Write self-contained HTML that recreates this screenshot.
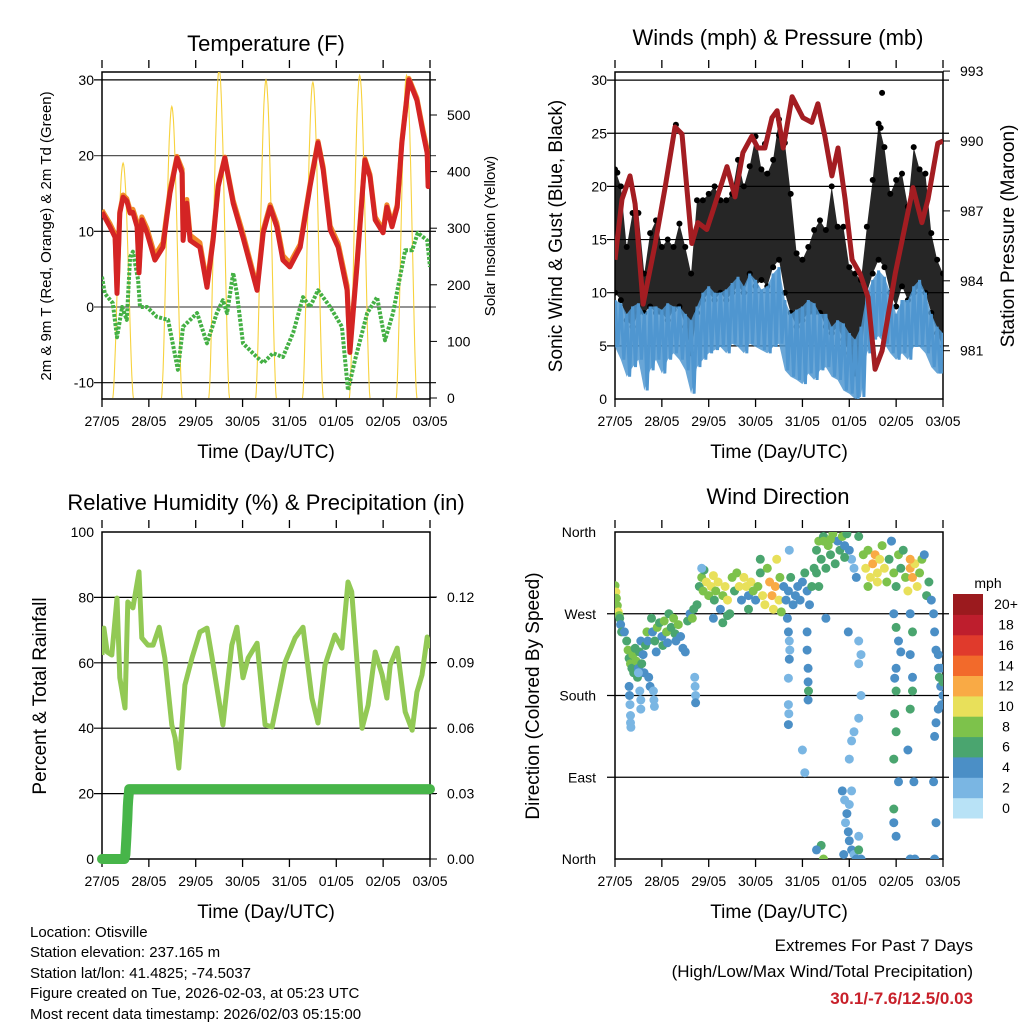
<!DOCTYPE html>
<html><head><meta charset="utf-8"><style>
body{margin:0;background:#fff}
svg{display:block;font-family:"Liberation Sans",Arial,sans-serif}
</style></head><body>
<svg id="c" width="1024" height="1024" viewBox="0 0 1024 1024" xmlns="http://www.w3.org/2000/svg">
<defs>
<clipPath id="cl1"><rect x="102" y="72" width="328" height="327"/></clipPath>
<clipPath id="cl2"><rect x="615" y="72" width="328" height="327"/></clipPath>
<clipPath id="cl3"><rect x="102" y="532" width="328" height="327"/></clipPath>
<clipPath id="cl4"><rect x="615" y="532" width="328" height="327"/></clipPath>
</defs>
<g font-size="22" text-anchor="middle">
<text x="266" y="51">Temperature (F)</text>
<text x="778" y="45">Winds (mph) &amp; Pressure (mb)</text>
<text x="266" y="510">Relative Humidity (%) &amp; Precipitation (in)</text>
<text x="778" y="504">Wind Direction</text>
</g>
<g font-size="19" text-anchor="middle">
<text x="266" y="458">Time (Day/UTC)</text>
<text x="779" y="458">Time (Day/UTC)</text>
<text x="266" y="918">Time (Day/UTC)</text>
<text x="779" y="918">Time (Day/UTC)</text>
<text transform="translate(562,236) rotate(-90)">Sonic Wind &amp; Gust (Blue, Black)</text>
<text transform="translate(1014,236) rotate(-90)">Station Pressure (Maroon)</text>
<text transform="translate(46,696) rotate(-90)">Percent &amp; Total Rainfall</text>
<text transform="translate(539,696) rotate(-90)">Direction (Colored By Speed)</text>
</g>
<g font-size="15" text-anchor="middle">
<text transform="translate(51,236) rotate(-90)">2m &amp; 9m T (Red, Orange) &amp; 2m Td (Green)</text>
<text transform="translate(495,236) rotate(-90)">Solar Insolation (Yellow)</text>
</g>
<g font-size="15">
<text x="30" y="937">Location: Otisville</text>
<text x="30" y="957">Station elevation: 237.165 m</text>
<text x="30" y="978">Station lat/lon: 41.4825; -74.5037</text>
<text x="30" y="998">Figure created on Tue, 2026-02-03, at 05:23 UTC</text>
<text x="30" y="1019">Most recent data timestamp: 2026/02/03 05:15:00</text>
</g>
<g text-anchor="end">
<text x="973" y="951" font-size="17">Extremes For Past 7 Days</text>
<text x="973" y="977" font-size="17">(High/Low/Max Wind/Total Precipitation)</text>
<text x="973" y="1004" font-size="17" font-weight="bold" fill="#c8202a">30.1/-7.6/12.5/0.03</text>
</g>
<text x="988" y="588" font-size="14" text-anchor="middle">mph</text>
<g id="dyn"></g>
</svg>
<script>
const dayLabels=['27/05','28/05','29/05','30/05','31/05','01/05','02/05','03/05'];
const tempT=[0,.17,.28,.32,.38,.45,.53,.6,.66,.75,.79,.85,.96,1.13,1.30,1.45,1.60,1.71,1.73,1.81,1.88,2.09,2.24,2.37,2.48,2.62,2.80,3.01,3.31,3.44,3.59,3.73,3.86,4.01,4.23,4.44,4.61,4.72,4.87,5.04,5.23,5.29,5.44,5.61,5.72,5.83,6.0,6.08,6.19,6.3,6.40,6.55,6.72,6.85,6.94,6.96,7.0];
const tempV=[12.5,10.6,9.2,1.8,12.4,14.5,14,12.4,12.5,10.6,4.5,11.5,9.8,6.2,7.9,15,19.7,17.7,8.8,13.7,8.8,7.9,2.6,8.8,15.9,19.7,13.7,9.2,2.2,9.8,13.2,10.6,6.2,5.3,7.9,15.9,21.7,18.1,10.2,7.9,2.2,-6,5.3,19.4,17.2,11.5,9.8,13.2,10.6,13.2,21.7,30,27.3,23,20.3,15.9,18.1];
const temp9V=[12.8,11,9.6,2.4,12.6,14.8,14.3,12.8,12.9,11.2,5,11.9,10.4,6.8,8.5,15.4,19.9,18.2,9.4,14.2,9.5,8.5,3.1,9.2,16.2,19.8,14.1,9.7,2.6,10.2,13.5,11.1,6.8,5.8,8.3,16.2,21.9,18.5,10.7,8.4,2.8,-5.5,5.8,19.6,17.5,11.9,10.2,13.5,11,13.5,22,30.2,27.6,23.4,20.8,16.4,18.5];
const dewT=[0,.06,.23,.32,.43,.53,.6,.66,.77,.81,.96,1.17,1.41,1.62,1.73,2.03,2.24,2.45,2.58,2.67,2.80,2.88,3.01,3.22,3.44,3.65,3.86,4.08,4.29,4.44,4.61,4.87,5.12,5.25,5.40,5.66,5.87,6.04,6.21,6.47,6.62,6.74,6.94,7];
const dewV=[4,1.8,.5,-4,0,-1.7,6.6,7.3,3.6,0,0,-1.3,-1.7,-8.3,-2.6,-.8,-4.8,-.8,.9,-.8,4.5,1.8,-4.8,-6.1,-7.4,-6.1,-6.6,-3.4,1.3,0,2.2,0,-2.6,-11,-7,-.8,1.3,-4.4,-.8,7.5,7.5,9.8,8.8,5.3];
const solarNoon=[0.45,1.49,2.5,3.5,4.5,5.5,6.5];
const solarPeak=[415,515,580,562,558,570,570];
const presT=[0,.15,.32,.43,.6,.85,1.07,1.28,1.43,1.64,1.77,1.96,2.09,2.39,2.56,2.73,2.92,3.05,3.2,3.35,3.46,3.59,3.78,4.01,4.2,4.33,4.48,4.63,4.76,4.91,5.06,5.23,5.40,5.55,5.7,5.98,6.36,6.55,6.68,6.89,7.0];
const presV=[984.9,987.5,988.5,987.3,983.0,985.5,988.0,990.6,990.3,985.6,986.5,986.2,987.0,988.9,987.6,989.5,990.2,989.7,989.7,991.0,991.3,989.7,991.9,991.0,990.8,991.6,990.2,988.5,989.7,987.5,984.9,984.3,983.3,980.2,981.0,984.3,988.0,986.5,987.5,989.9,990.0];
const windHi=[9.3,9,8,8.7,9,8,8.7,8.7,8.4,9,8.7,8.7,8,7.4,8.7,10,10.6,10,10,10.3,10.9,11.5,10.6,11.8,11.2,10.3,10.6,11.8,12.4,9.3,8,8.4,8.7,9.3,9,8,8,6.8,7.4,7.1,6.2,5.6,6.8,10,11.2,12.1,11.5,10,8,9.3,9.3,10.6,11.2,10,8,6.8,6.2];
const windLo=[4.9,3.7,2.1,3,3.7,.8,2.7,3.7,2.4,3.7,4.3,3.7,2.7,.5,3,3.7,4.3,4.6,4.9,4.3,5.2,4.9,4.3,5.2,4.9,4.6,4.3,4.9,5.2,2.7,2.1,1.8,1.4,2.4,1.8,2.7,3,2.1,1.8,.8,.5,0,.2,4.3,5.6,5.9,5.2,4.3,3.7,4.3,3.7,4.9,4.9,4.3,3,2.4,2.4];
const gustHi=[21.6,20,14.3,17.5,17.5,11.8,15.6,16.8,14.3,15,14.3,16.5,14.3,11.8,18.7,18.7,19.3,20,18.7,18.7,19.3,22.5,20,21.9,24.7,21.6,21.2,22.5,26.3,24.1,19.3,13.7,13.1,14.3,15.9,16.8,15.9,20,16.2,16.2,12.4,11.8,11.2,16.2,20.6,25.9,23.7,19.3,20.6,21.2,18.1,23.7,21.6,21.2,15.6,13.1,11.8];
const gustLo=[10,9.3,7.4,6.8,8.1,8.1,8.7,8.1,8.1,7.4,8.4,8.7,6.8,4.3,8.1,9.3,10,9.3,10,9.3,10,10.6,10,11.8,10.6,11.2,10.6,12.4,13.1,10,8.1,6.8,7.4,8.1,8.1,8.1,6.8,6.2,6.8,5.6,4.3,2.4,3.7,10,11.8,13.1,12.4,10,8.7,10.6,9.3,10,10.6,10,8.1,6.2,4.9];
const gustOutT=[5.7,5.67,3.2,3.5,1.3,0.05];
const gustOutV=[28.8,25.5,24,24.8,25.8,21.3];
const rhT=[0,.04,.11,.21,.32,.38,.49,.55,.66,.79,.85,.98,1.09,1.22,1.34,1.49,1.56,1.64,1.77,1.92,2.09,2.24,2.35,2.58,2.77,2.88,3.01,3.12,3.31,3.48,3.63,3.91,4.12,4.29,4.48,4.61,4.76,4.97,5.12,5.25,5.33,5.55,5.68,5.83,5.98,6.08,6.15,6.30,6.47,6.62,6.72,6.83,6.94,7];
const rhV=[62.4,70.6,63.3,62.4,79.8,55.4,46.2,78.6,76.8,87.8,67.6,65.4,65.4,70.9,61.5,41,37,27.8,53.2,61.5,69.4,70.6,61.5,41,65.4,70.9,55.4,61.5,66,41,40.4,60.2,67.6,70.9,49.2,41.6,59.3,68.5,64.5,84.7,81.7,40,47,63.3,56.3,49.2,59.3,64.5,45,39.4,51,56.3,67.9,64.5];
const precipT=[0,.48,.5,.51,.52,.53,.54,.55,.56,.58,7];
const precipV=[0,0,.002,.006,.01,.014,.018,.024,.027,.032,.032];
const wdT=[0,.02,.03,.05,.07,.09,.1,.12,.14,
.2,.25,.28,.3,.33,.36,.38,.4,.43,.45,.48,.5,.52,.55,.57,.6,.62,.65,.68,.7,.3,.31,.32,.33,.33,.34,.5,.53,.55,.55,.72,.75,
.78,.8,.85,.88,.9,.95,1.0,1.02,1.05,1.1,1.12,1.15,1.2,1.25,1.28,1.3,1.35,1.4,1.45,1.5,1.55,1.6,1.65,1.68,.82,.83,.84,1.7,1.71,1.72,1.72,
1.75,1.8,1.85,1.88,1.9,1.95,2.0,2.05,2.1,2.12,2.15,2.2,2.25,2.3,2.35,2.4,2.45,2.5,2.55,2.6,2.65,2.7,1.85,2.3,2.4,2.1,
2.75,2.8,2.85,2.9,2.95,3.0,3.05,3.1,3.15,3.2,3.25,3.3,3.35,3.38,3.42,3.45,3.5,3.52,3.55,3.1,2.85,
3.6,3.65,3.7,3.75,3.8,3.85,3.9,3.95,4.0,4.05,4.1,4.15,4.2,4.25,3.68,3.7,3.72,3.73,3.72,3.7,3.7,3.71,3.7,3.72,4.1,4.1,4.12,4.12,4.13,4.12,4.0,4.05,
4.3,4.35,4.4,4.45,4.5,4.55,4.6,4.65,4.7,4.75,4.8,4.85,4.9,4.95,5.0,5.05,5.1,5.15,5.2,4.45,4.6,4.9,4.3,4.35,4.5,
4.85,4.9,4.95,4.92,4.98,5.0,5.05,5.1,5.15,4.88,5.2,5.2,5.25,5.0,5.05,4.4,4.3,4.45,5.0,5.05,5.1,5.2,5.25,5.2,5.25,5.2,4.98,
5.3,5.35,5.4,5.45,5.5,5.55,5.6,5.65,5.7,5.75,5.8,5.85,5.9,5.95,6.0,6.05,6.1,6.15,6.2,6.25,6.3,6.35,6.4,6.45,6.5,6.55,6.6,6.65,6.7,5.4,5.6,6.3,
5.95,6.0,6.05,6.1,6.0,5.97,6.0,5.97,6.0,5.95,6.05,5.95,5.95,6.0,6.3,6.35,6.3,6.35,6.35,6.3,6.25,6.38,6.4,6.3,
6.75,6.8,6.82,6.85,6.9,6.92,6.95,7.0,6.97,6.9,6.85,6.82,6.8,7.0,6.95,6.9,6.85,6.82];
const wdD=[301,294,287,279,272,268,265,258,250,
250,240,230,221,215,210,225,205,232,218,200,210,228,240,215,225,205,235,250,240,190,180,170,158,150,145,205,185,175,165,200,190,
265,250,240,228,255,260,245,235,262,250,238,270,255,265,248,240,258,245,232,228,262,270,265,275,185,175,168,200,190,180,172,
280,300,310,295,318,305,290,300,312,285,295,305,275,290,300,285,270,310,295,315,300,285,320,260,268,265,
310,300,290,305,295,285,300,315,290,280,320,305,290,275,300,330,285,310,272,330,275,
300,285,295,310,280,290,300,285,305,315,295,280,300,320,265,250,240,230,220,199,170,160,148,340,250,230,210,195,185,175,120,95,
340,350,330,355,320,345,335,358,325,350,340,355,345,358,340,330,320,310,355,350,352,332,315,300,265,
75,65,50,40,30,20,10,5,0,5,10,25,0,60,75,15,10,0,110,130,140,155,225,215,180,240,250,
335,320,340,310,325,335,315,330,345,320,305,330,350,315,300,335,320,340,310,295,320,310,325,300,315,330,335,290,305,300,305,330,
270,255,240,228,210,199,185,160,140,110,85,55,40,25,270,250,225,200,185,165,120,85,0,0,
285,270,250,230,210,200,190,180,170,165,150,135,85,195,210,225,40,0];
const wdS=[8,9,8,7,9,8,6,4,5,
4,6,7,5,8,6,7,6,5,7,6,4,6,4,5,4,3,6,8,4,3,3,2,2,2,1,2,2,2,1,3,4,
6,4,5,4,7,6,4,5,7,8,4,6,5,7,6,4,8,4,4,3,6,4,7,6,2,2,1,2,2,2,3,
6,5,7,8,6,9,7,10,9,6,8,10,4,7,9,10,6,7,6,8,10,4,2,6,6,4,
9,10,4,10,7,4,8,6,9,10,7,12,11,10,12,9,10,7,8,5,6,
4,3,4,5,4,4,3,4,4,6,3,4,5,6,4,3,2,2,4,2,2,2,3,2,3,4,4,4,6,4,2,2,
6,7,6,6,5,7,6,8,6,4,6,7,4,6,3,2,2,3,6,7,7,6,6,5,4,
3,2,3,2,4,3,4,2,3,4,6,2,3,2,2,6,4,7,2,2,2,2,2,2,2,2,3,
7,9,8,10,11,12,10,9,7,10,8,6,4,8,6,7,5,6,8,10,12,11,10,9,7,8,4,5,6,8,9,11,
4,6,4,4,4,4,6,6,6,6,4,6,4,4,4,6,4,4,6,6,4,4,4,4,
4,4,4,4,4,6,4,4,4,4,4,4,4,6,4,4,4,3];
const speedColors=['#b8e2f6','#7ab6e3','#4b8fc6','#4aa56f','#7dc24b','#e8e05a','#f9aa45','#f26a2b','#e03a2c','#be1e2d','#9b1a1e'];
const speedLabels=['0','2','4','6','8','10','12','14','16','18','20+'];

const NS='http://www.w3.org/2000/svg';
const root=document.getElementById('dyn');
function mk(tag,attrs,parent){const e=document.createElementNS(NS,tag);for(const k in attrs)e.setAttribute(k,attrs[k]);(parent||root).appendChild(e);return e;}
const DAY=328/7;
const x1=t=>102+t*DAY, x2=t=>615+t*DAY;
const yT=v=>307-v*7.57, ySol=v=>398-v*0.566;
const yW=v=>399-v*10.63, yP=p=>141-(p-990)*23.3;
const yRH=v=>859-v*3.27, yPr=v=>859-v*2183;
const yD=d=>859-d*327/360;
function pts(T,V,fx,fy){return T.map((t,i)=>fx(t).toFixed(1)+','+fy(V[i]).toFixed(1)).join(' ');}

function panel(left,top,name){
  const g=mk('g',{});
  
  
  for(let i=0;i<8;i++){
    const x=left+i*DAY;
    const tk=mk('line',{x1:x,x2:x,y1:top+327,y2:top+335,stroke:'#000','stroke-width':1.3},g);
    
    
    const tt=mk('line',{x1:x,x2:x,y1:top-12,y2:top-4,stroke:'#000','stroke-width':1.3},g);
    
    
    const lb=mk('text',{x:x,y:top+354,'font-size':14,'text-anchor':'middle'},g);
    lb.textContent=dayLabels[i];
    
    
  }
  return g;
}
function hgrid(g,left,y,color){const l=mk('line',{x1:left-8,x2:left+328+6,y1:y,y2:y,stroke:color||'#000','stroke-width':1.2},g);}
function ylab(g,x,y,txt,anchor,name){const t=mk('text',{x:x,y:y+5,'font-size':14,'text-anchor':anchor},g);t.textContent=txt;}
function frame(g,left,top){const r=mk('rect',{x:left,y:top,width:328,height:327,fill:'none',stroke:'#000','stroke-width':1.5},g);}

// Panel 1
const g1=panel(102,72,'temperature');
const tempTicks=[30,20,10,0,-10];
tempTicks.forEach(v=>{hgrid(g1,102,yT(v),v===20||v===0?'#555':'#000');ylab(g1,94,yT(v),String(v),'end','temp-y-tick-label');});
const solTicks=[0,100,200,300,400,500];
solTicks.forEach(v=>{const l=mk('line',{x1:430,x2:437,y1:ySol(v),y2:ySol(v),stroke:'#000'},g1);ylab(g1,447,ySol(v),String(v),'start','solar-y-tick-label');});
const c1=mk('g',{'clip-path':'url(#cl1)'});


solarNoon.forEach((n,i)=>{
  const p=[];for(let k=0;k<=40;k++){const t=n-0.22+k*0.011;const s=Math.sin(Math.PI*k/40);p.push(x1(t).toFixed(1)+','+ySol(solarPeak[i]*Math.pow(s,1.6)).toFixed(1));}
  const pl=mk('polyline',{points:p.join(' '),fill:'none',stroke:'#f7d23e','stroke-width':1.1},c1);
  
  
});
const dl=mk('polyline',{points:pts(dewT,dewV,x1,yT),fill:'none',stroke:'#44b044','stroke-width':4,'stroke-dasharray':'3 1.5','stroke-linejoin':'round'},c1);


const ol=mk('polyline',{points:pts(tempT,temp9V,x1,yT),fill:'none',stroke:'#f08a2a','stroke-width':5,'stroke-linejoin':'round'},c1);


const rl=mk('polyline',{points:pts(tempT,tempV,x1,yT),fill:'none',stroke:'#d42424','stroke-width':5,'stroke-linejoin':'round'},c1);


frame(g1,102,72);

// Panel 2
const g2=panel(615,72,'winds');
const windTicks=[0,5,10,15,20,25,30];
windTicks.forEach(v=>{if(v>0)hgrid(g2,615,yW(v),'#000');ylab(g2,607,yW(v),String(v),'end','wind-y-tick-label');});
const presTicks=[981,984,987,990,993];
presTicks.forEach(v=>{const l=mk('line',{x1:943,x2:950,y1:yP(v),y2:yP(v),stroke:'#000'},g2);ylab(g2,960,yP(v),String(v),'start','pressure-y-tick-label');});
const c2=mk('g',{'clip-path':'url(#cl2)'});


const wT=gustHi.map((_,i)=>i/8);
function band(T,hi,lo,fx,fy){return 'M'+T.map((t,i)=>fx(t).toFixed(1)+','+fy(hi[i]).toFixed(1)).join(' L')+' L'+T.slice().reverse().map((t,j)=>{const i=T.length-1-j;return fx(t).toFixed(1)+','+fy(lo[i]).toFixed(1);}).join(' L')+'Z';}
const gb=mk('path',{d:band(wT,gustHi,gustLo,x2,yW),fill:'#000','fill-opacity':0.85},c2);


wT.forEach((t,i)=>{
  const a=mk('circle',{cx:x2(t),cy:yW(gustHi[i]),r:3,fill:'#000'},c2);
  
  
  const b=mk('circle',{cx:x2(t),cy:yW(gustLo[i]),r:3,fill:'#000'},c2);
  
  
});
gustOutT.forEach((t,i)=>{const o=mk('circle',{cx:x2(t),cy:yW(gustOutV[i]),r:3,fill:'#000'},c2);});
const zig=[];wT.forEach((t,i)=>{zig.push(x2(t).toFixed(1)+','+yW(windHi[i]).toFixed(1));zig.push((x2(t)+DAY/16).toFixed(1)+','+yW(windLo[i]).toFixed(1));});
const wb=mk('path',{d:band(wT,windHi,windLo,x2,yW),fill:'#4f96d0',opacity:0.85},c2);


const wz=mk('polyline',{points:zig.join(' '),fill:'none',stroke:'#4f96d0','stroke-width':3},c2);


const pl2=mk('polyline',{points:pts(presT,presV,x2,yP),fill:'none',stroke:'#a31d22','stroke-width':5,'stroke-linejoin':'round'},c2);


frame(g2,615,72);

// Panel 3
const g3=panel(102,532,'humidity');
const rhTicks=[0,20,40,60,80,100];
rhTicks.forEach(v=>{if(v>0&&v<100)hgrid(g3,102,yRH(v),'#000');ylab(g3,94,yRH(v),String(v),'end','rh-y-tick-label');});
const prTicks=[0,0.03,0.06,0.09,0.12];
prTicks.forEach(v=>{const l=mk('line',{x1:430,x2:437,y1:yPr(v),y2:yPr(v),stroke:'#000'},g3);ylab(g3,447,yPr(v),v.toFixed(2),'start','precip-y-tick-label');});
const c3=mk('g',{'clip-path':'url(#cl3)'});


const rh=mk('polyline',{points:pts(rhT,rhV,x1,yRH),fill:'none',stroke:'#92c955','stroke-width':5,'stroke-linejoin':'round'},c3);


const pr=mk('polyline',{points:pts(precipT,precipV,x1,yPr),fill:'none',stroke:'#47b549','stroke-width':10,'stroke-linecap':'round','stroke-linejoin':'round'});


frame(g3,102,532);

// Panel 4
const g4=panel(615,532,'wind-direction');
const dirTicks=[0,90,180,270,360];
const dirLabels=['North','East','South','West','North'];
dirTicks.forEach((v,i)=>{if(v>0&&v<360)hgrid(g4,615,yD(v),'#000');ylab(g4,596,yD(v),dirLabels[i],'end','dir-y-tick-label');});
const c4=mk('g',{'clip-path':'url(#cl4)'});


wdT.forEach((t,i)=>{
  const ci=Math.min(10,Math.round(wdS[i]/2));
  const d=mk('circle',{cx:x2(t).toFixed(1),cy:yD(wdD[i]).toFixed(1),r:4.5,fill:speedColors[ci]},c4);
  
  
});
frame(g4,615,532);
const cb=mk('g',{});


speedColors.forEach((c,i)=>{
  const y=818-(i+1)*224/11;
  const r=mk('rect',{x:953,y:y.toFixed(1),width:30,height:(224/11+0.5).toFixed(1),fill:c},cb);
  
  
  const t=mk('text',{x:1006,y:(y+224/22+5).toFixed(1),'font-size':14,'text-anchor':'middle'},cb);
  t.textContent=speedLabels[i];
  
  
});
</script>
</body></html>
